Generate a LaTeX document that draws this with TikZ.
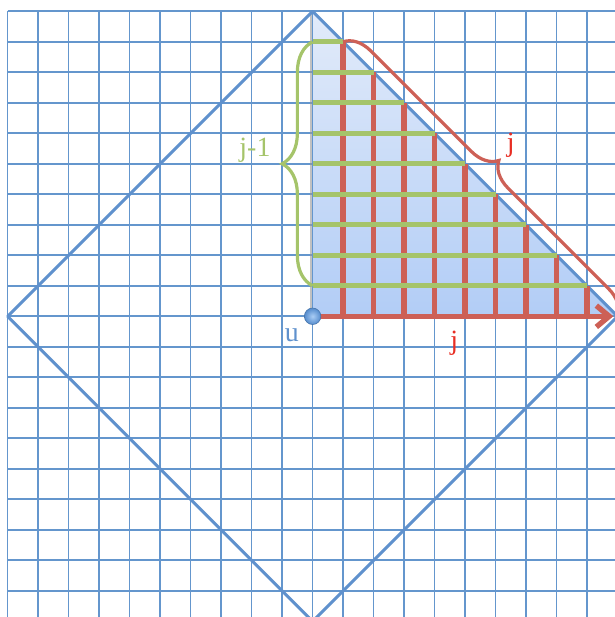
\documentclass[tikz,border=0pt]{standalone}
\usepackage{fontspec}
\setmainfont{Liberation Serif}
\usetikzlibrary{decorations.pathreplacing,arrows.meta,calc}
\definecolor{gridblue}{RGB}{100,150,205}
\definecolor{diamblue}{RGB}{95,145,205}
\definecolor{barred}{RGB}{205,96,86}
\definecolor{bargreen}{RGB}{165,196,106}
\definecolor{txtred}{RGB}{232,45,35}
\definecolor{txtblue}{RGB}{95,145,205}
\definecolor{filltop}{RGB}{226,235,250}
\definecolor{fillbot}{RGB}{178,205,246}
\definecolor{dotin}{RGB}{170,205,245}
\definecolor{dotout}{RGB}{85,140,205}
\begin{document}
\begin{tikzpicture}[x=1cm,y=1cm,
  gridline/.style={gridblue,line width=1.6pt},
  diamline/.style={diamblue,line width=2.8pt,line join=round},
  redbar/.style={barred,line width=5pt},
  greenbar/.style={bargreen,line width=4.6pt},
  redbrace/.style={barred,line width=3pt,decorate,decoration={brace,amplitude=0.86cm}},
  greenbrace/.style={bargreen,line width=3pt,decorate,decoration={brace,amplitude=1cm}},
  lbl/.style={font=\fontsize{26}{26}\selectfont,inner sep=0pt}]
\useasboundingbox (-10.25,-9.86) rectangle (9.91,10.37);
\fill[white] (-10.25,-9.86) rectangle (9.91,10.37);
\coordinate (u) at (0,0);
\coordinate (T) at (0,10);
\coordinate (R) at (10,0);
\coordinate (L) at (-10,0);
\coordinate (B) at (0,-10);
\begin{scope}
\clip (-10.25,-9.86) rectangle (9.91,10.37);
\shade[top color=filltop,bottom color=fillbot] (u) -- (T) -- (R) -- cycle;
\foreach \i in {-10,...,9} \draw[gridline] (\i,10) -- (\i,-9.95);
\foreach \j in {10,...,-9} \draw[gridline] (-10,\j) -- (9.95,\j);
\draw[black!40,opacity=0.6,line width=1.2pt] (-0.05,0) -- (-0.05,9.9);
\draw[diamline] (T) -- (R) -- (B) -- (L) -- cycle;
\foreach \i in {1,...,9} \draw[redbar] ({\i},0) -- ({\i},{10-\i});
\foreach \k in {1,...,9} \draw[greenbar] (0,{\k}) -- ({10-\k},{\k});
\draw[redbar,-{Straight Barb[length=0.42cm,width=0.7cm]}] (u) -- (9.86,0);
\draw[greenbrace] (0,1) -- (0,9);
\draw[redbrace] (1,9) -- (R);
\end{scope}
\shade[inner color=dotin,outer color=dotout] (u) circle (0.27);
\draw[dotout!85!black,line width=0.6pt] (u) circle (0.27);
\node[lbl,text=bargreen] (jm1) at (-1.89,5.45) {j-1};
\node[lbl,text=txtred] (jtop) at (6.5,5.62) {j};
\node[lbl,text=txtred] (jbot) at (4.64,-0.87) {j};
\node[lbl,text=txtblue] (ulbl) at (-0.68,-0.61) {u};
\end{tikzpicture}
\end{document}
